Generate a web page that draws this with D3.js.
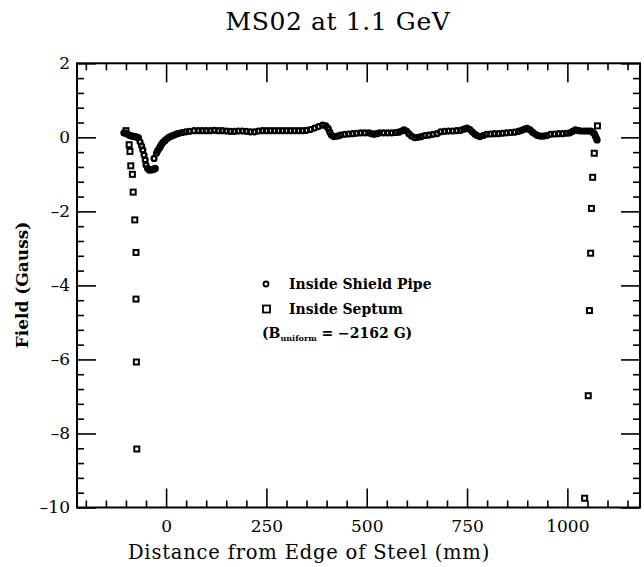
<!DOCTYPE html>
<html>
<head>
<meta charset="utf-8">
<script src="https://cdn.jsdelivr.net/npm/d3@7"></script>
<style>
  html, body { margin: 0; padding: 0; background: #fff; }
  svg { display: block; }
  text { font-family: "DejaVu Serif", serif; fill: #000; }
</style>
</head>
<body>
<svg id="chart" width="644" height="567"></svg>
<script>
// ---------------- data ----------------
const title = "MS02 at 1.1 GeV";
const xLabel = "Distance from Edge of Steel (mm)";
const yLabel = "Field (Gauss)";
const seriesNames = ["Inside Shield Pipe", "Inside Septum"];
const uniformNote = ["(B", "uniform", " = \u22122162 G)"];

const xMajorTicks = [0, 250, 500, 750, 1000];
const xMinorTicks = [-200, -150, -100, -50, 50, 100, 150, 200, 300, 350, 400, 450, 550, 600, 650, 700, 800, 850, 900, 950, 1050, 1100, 1150];
const yMajorTicks = [-10, -8, -6, -4, -2, 0, 2];
const yMinorTicks = [-9.6, -9.2, -8.8, -8.4, -7.6, -7.2, -6.8, -6.4, -5.6, -5.2, -4.8, -4.4, -3.6, -3.2, -2.8, -2.4, -1.6, -1.2, -0.8, -0.4, 0.4, 0.8, 1.2, 1.6];

// Inside Shield Pipe (circles): [distance mm, field G]
const shieldX = [-105, -100, -96, -92, -88, -84, -80, -76, -72, -69, -65, -61, -58, -55, -52, -50, -46, -42, -38, -34, -30, -27,
  -30, -24, -21, -17, -14, -11, -7, -3, 2, 7, 13, 20, 26, 32, 40, 49, 58, 70,
  80, 90, 100, 110, 120, 130, 140, 150, 160, 170, 180, 190, 200, 210, 220, 230, 240, 250, 260, 270, 280, 290, 300, 310, 320, 330, 340, 350,
  360, 370, 380, 390, 398, 404, 408, 412, 418, 427, 435, 445, 455, 465, 475, 485, 495, 505, 512, 518, 525, 532, 542, 552, 562, 572, 580, 587,
  593, 599, 605, 612, 620, 628, 636, 645, 655, 665, 675, 684, 694, 704, 714, 724, 734, 742, 750, 757, 763, 769, 775, 782, 790, 798, 808,
  818, 828, 838, 848, 858, 868, 878, 886, 893, 900, 907, 913, 920, 926, 933, 941, 949, 958, 968, 978, 988, 998, 1006, 1013, 1020, 1028,
  1036, 1044, 1052, 1058, 1063, 1067, 1070, 1072, 1074];
const shieldY = [0.12, 0.11, 0.08, 0.06, 0.04, 0.03, 0.02, 0.02, 0.0, -0.01, -0.12, -0.23, -0.34, -0.48, -0.61, -0.75, -0.84, -0.88, -0.88, -0.87, -0.86, -0.84,
  -0.57, -0.43, -0.36, -0.30, -0.24, -0.18, -0.13, -0.09, -0.04, 0.0, 0.03, 0.06, 0.09, 0.11, 0.13, 0.15, 0.16, 0.18,
  0.18, 0.18, 0.18, 0.18, 0.19, 0.18, 0.18, 0.17, 0.16, 0.16, 0.17, 0.17, 0.16, 0.15, 0.15, 0.17, 0.18, 0.18, 0.18, 0.18, 0.18, 0.18, 0.18, 0.18, 0.18, 0.18, 0.18, 0.19,
  0.21, 0.25, 0.29, 0.33, 0.31, 0.24, 0.14, 0.06, 0.02, 0.03, 0.06, 0.08, 0.09, 0.10, 0.11, 0.12, 0.12, 0.12, 0.10, 0.08, 0.10, 0.12, 0.12, 0.12, 0.12, 0.13, 0.14, 0.17,
  0.20, 0.17, 0.10, 0.03, -0.01, 0.0, 0.02, 0.05, 0.06, 0.08, 0.10, 0.15, 0.16, 0.17, 0.17, 0.18, 0.19, 0.22, 0.25, 0.21, 0.15, 0.09, 0.05, 0.02, 0.05, 0.08, 0.09,
  0.10, 0.10, 0.11, 0.12, 0.13, 0.14, 0.16, 0.19, 0.22, 0.24, 0.20, 0.14, 0.09, 0.05, 0.03, 0.03, 0.05, 0.08, 0.09, 0.10, 0.10, 0.11, 0.12, 0.16, 0.20, 0.18,
  0.17, 0.17, 0.17, 0.17, 0.14, 0.10, 0.03, -0.02, -0.07];

// Inside Septum (squares)
const septumX = [-100, -92, -90, -88, -84, -82, -78, -75, -75, -74, -73, 1075, 1067, 1063, 1060, 1058, 1055, 1052, 1043];
const septumY = [0.18, -0.20, -0.38, -0.77, -1.00, -1.48, -2.23, -3.11, -4.37, -6.07, -8.42, 0.31, -0.43, -1.08, -1.92, -3.13, -4.68, -6.98, -9.75];

// ---------------- chart ----------------
const svg = d3.select("#chart");
const L = 77, R = 640, T = 63.3, B = 507.5;

const x = d3.scaleLinear().domain([-222, 1181]).range([L, R]);
const y = d3.scaleLinear().domain([-10, 2]).range([B, T]);

const fmtY = d => d < 0 ? "\u2013" + Math.abs(d) : String(d);

function addAxis(gen, tr, cls) {
  const g = svg.append("g").attr("transform", tr).attr("class", cls).call(gen);
  g.select(".domain").remove();
  g.selectAll(".tick line").attr("stroke", "#000").attr("stroke-width", 1.6);
  return g;
}
const majorLen = 19, minorLen = 7;

const gxB = addAxis(d3.axisBottom(x).tickValues(xMajorTicks).tickSize(-majorLen).tickPadding(12).tickFormat(d3.format("d")), `translate(0,${B})`, "xb");
gxB.selectAll("text").attr("font-size", 17).attr("font-family", "DejaVu Serif");
addAxis(d3.axisBottom(x).tickValues(xMinorTicks).tickSize(-minorLen).tickFormat(""), `translate(0,${B})`, "xbm");
addAxis(d3.axisTop(x).tickValues(xMajorTicks).tickSize(-majorLen).tickFormat(""), `translate(0,${T})`, "xt");
addAxis(d3.axisTop(x).tickValues(xMinorTicks).tickSize(-minorLen).tickFormat(""), `translate(0,${T})`, "xtm");

const gyL = addAxis(d3.axisLeft(y).tickValues(yMajorTicks).tickSize(-majorLen).tickPadding(7).tickFormat(fmtY), `translate(${L},0)`, "yl");
gyL.selectAll("text").attr("font-size", 17).attr("font-family", "DejaVu Serif");
addAxis(d3.axisLeft(y).tickValues(yMinorTicks).tickSize(-minorLen).tickFormat(""), `translate(${L},0)`, "ylm");
addAxis(d3.axisRight(y).tickValues(yMajorTicks).tickSize(-majorLen).tickFormat(""), `translate(${R},0)`, "yr");
addAxis(d3.axisRight(y).tickValues(yMinorTicks).tickSize(-minorLen).tickFormat(""), `translate(${R},0)`, "yrm");

// frame
svg.append("rect").attr("x", L).attr("y", T).attr("width", R - L).attr("height", B - T)
  .attr("fill", "none").attr("stroke", "#000").attr("stroke-width", 2);

// shield pipe circles
const shield = shieldX.map((v, i) => ({ x: v, y: shieldY[i] }));
svg.append("g").selectAll("circle").data(shield).join("circle")
  .attr("cx", d => x(d.x)).attr("cy", d => y(d.y)).attr("r", 2.4)
  .attr("fill", "none").attr("stroke", "#000").attr("stroke-width", 2.4);

// septum squares
const septum = septumX.map((v, i) => ({ x: v, y: septumY[i] }));
const sq = 5;
svg.append("g").selectAll("rect").data(septum).join("rect")
  .attr("x", d => x(d.x) - sq / 2).attr("y", d => y(d.y) - sq / 2)
  .attr("width", sq).attr("height", sq)
  .attr("fill", "none").attr("stroke", "#000").attr("stroke-width", 2);

// legend
const lg = svg.append("g");
lg.append("circle").attr("cx", 266).attr("cy", 284).attr("r", 2.5)
  .attr("fill", "none").attr("stroke", "#000").attr("stroke-width", 1.8);
lg.append("rect").attr("x", 263).attr("y", 305.5).attr("width", 7).attr("height", 7)
  .attr("fill", "none").attr("stroke", "#000").attr("stroke-width", 1.8);
lg.append("text").attr("x", 289).attr("y", 289).attr("font-size", 14).attr("font-weight", "bold").text(seriesNames[0]);
lg.append("text").attr("x", 289).attr("y", 314).attr("font-size", 14).attr("font-weight", "bold").text(seriesNames[1]);
const note = lg.append("text").attr("x", 262).attr("y", 338).attr("font-size", 14).attr("font-weight", "bold");
note.append("tspan").text(uniformNote[0]);
note.append("tspan").attr("font-size", 8).attr("dy", 3).text(uniformNote[1]);
note.append("tspan").attr("dy", -3).text(uniformNote[2]);

// title and axis labels
svg.append("text").attr("x", 338).attr("y", 30).attr("text-anchor", "middle")
  .attr("font-size", 25).attr("letter-spacing", 0.6).text(title);
svg.append("text").attr("x", 309).attr("y", 559).attr("text-anchor", "middle")
  .attr("font-size", 19.5).attr("letter-spacing", 0.8).text(xLabel);
svg.append("text").attr("transform", "translate(28,285) rotate(-90)").attr("text-anchor", "middle")
  .attr("font-size", 17).attr("font-weight", "bold").text(yLabel);
</script>
</body>
</html>
